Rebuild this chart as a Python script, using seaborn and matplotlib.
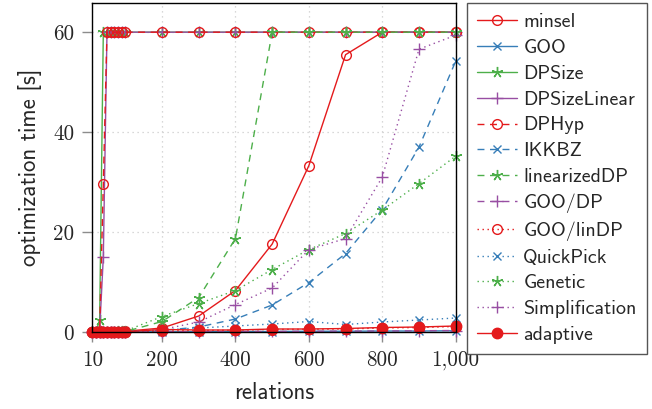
import matplotlib
matplotlib.use("Agg")
import matplotlib.pyplot as plt
import seaborn as sns
import numpy as np
import pandas as pd

# ---------------- data ----------------
relations = [10, 20, 30, 40, 50, 60, 70, 80, 90, 100,
             200, 300, 400, 500, 600, 700, 800, 900, 1000]

minsel = [0, 0, 0, 0.01, 0.02, 0.03, 0.05, 0.08, 0.1, 0.15,
          0.8, 3.2, 8.3, 17.6, 33.3, 55.5, 60, 60, 60]
goo = [0, 0, 0, 0, 0, 0, 0, 0, 0, 0.01,
       0.05, 0.05, 0.1, 0.1, 0.15, 0.15, 0.2, 0.2, 0.25]
dpsize = [0, 0.05, 2.4, 60, 60, 60, 60, 60, 60, 60,
          60, 60, 60, 60, 60, 60, 60, 60, 60]
dpsizelinear = [0, 0.02, 0.3, 15, 60, 60, 60, 60, 60, 60,
                60, 60, 60, 60, 60, 60, 60, 60, 60]
dphyp = [0, 0.01, 0.2, 29.6, 60, 60, 60, 60, 60, 60,
         60, 60, 60, 60, 60, 60, 60, 60, 60]
ikkbz = [0, 0, 0, 0, 0, 0.01, 0.01, 0.02, 0.02, 0.03,
         0.3, 1.0, 2.6, 5.4, 9.9, 15.7, 24.5, 37.0, 54.2]
linearizeddp = [0, 0, 0, 0, 0.01, 0.02, 0.03, 0.05, 0.07, 0.1,
                2.1, 6.9, 18.7, 60, 60, 60, 60, 60, 60]
goo_dp = [0, 0, 0, 0, 0, 0, 0, 0.01, 0.01, 0.01,
          0.05, 0.08, 0.1, 0.12, 0.15, 0.18, 0.2, 0.25, 0.3]
goo_lindp = [0, 0, 0, 0, 0.01, 0.01, 0.02, 0.02, 0.03, 0.03,
             0.2, 0.3, 0.35, 0.5, 0.55, 0.6, 0.8, 0.9, 1.1]
quickpick = [0, 0, 0.01, 0.01, 0.02, 0.03, 0.04, 0.05, 0.07, 0.1,
             0.4, 0.8, 1.2, 1.6, 2.1, 1.5, 2.0, 2.4, 2.8]
genetic = [0, 0.01, 0.02, 0.03, 0.05, 0.07, 0.1, 0.13, 0.17, 0.2,
           3.1, 5.7, 8.3, 12.5, 16.5, 19.7, 24.4, 29.7, 35.2]
simplification = [0, 0, 0, 0, 0.01, 0.01, 0.02, 0.03, 0.04, 0.05,
                  0.5, 2.0, 5.5, 8.8, 16.5, 18.7, 31.0, 56.6, 59.4]
adaptive = [0.02, 0.02, 0.02, 0.02, 0.03, 0.03, 0.03, 0.04, 0.04, 0.05,
            0.5, 0.4, 0.4, 0.6, 0.6, 0.7, 0.9, 1.0, 1.2]

series_names = ["minsel", "GOO", "DPSize", "DPSizeLinear", "DPHyp", "IKKBZ",
                "linearizedDP", "GOO/DP", "GOO/linDP", "QuickPick", "Genetic",
                "Simplification", "adaptive"]
series_values = [minsel, goo, dpsize, dpsizelinear, dphyp, ikkbz,
                 linearizeddp, goo_dp, goo_lindp, quickpick, genetic,
                 simplification, adaptive]

xtick_values = [10, 200, 400, 600, 800, 1000]
xtick_labels = ["10", "200", "400", "600", "800", "1,000"]
ytick_values = [0, 20, 40, 60]
ytick_labels = ["0", "20", "40", "60"]

# ---------------- styles ----------------
RED, BLUE, GREEN, PURPLE = "#e41a1c", "#377eb8", "#4daf4a", "#984ea3"
DASH = (0, (5, 4))
DOT = (0, (1, 2.6))
star = (5, 2, 0)
styles = [
    dict(color=RED, linestyle="-", marker="o", mfc="none", ms=7),
    dict(color=BLUE, linestyle="-", marker="x", ms=6),
    dict(color=GREEN, linestyle="-", marker=star, ms=8),
    dict(color=PURPLE, linestyle="-", marker="+", ms=9),
    dict(color=RED, linestyle=DASH, marker="o", mfc="none", ms=7),
    dict(color=BLUE, linestyle=DASH, marker="x", ms=6),
    dict(color=GREEN, linestyle=DASH, marker=star, ms=8),
    dict(color=PURPLE, linestyle=DASH, marker="+", ms=9),
    dict(color=RED, linestyle=DOT, marker="o", mfc="none", ms=7),
    dict(color=BLUE, linestyle=DOT, marker="x", ms=6),
    dict(color=GREEN, linestyle=DOT, marker=star, ms=8),
    dict(color=PURPLE, linestyle=DOT, marker="+", ms=9),
    dict(color=RED, linestyle="-", marker="o", mfc=RED, ms=7.5),
]

sns.set_theme(style="white")
plt.rcParams["font.family"] = ["DejaVu Sans"]

fig = plt.figure(figsize=(6.52, 4.09), dpi=100)
ax = fig.add_axes([92.3 / 652, 1 - 332 / 409, (455.7 - 92.3) / 652, (332 - 2.7) / 409])

for name, vals, st in zip(series_names, series_values, styles):
    df = pd.DataFrame({"relations": relations, "time": vals})
    st = dict(st)
    sns.lineplot(data=df, x="relations", y="time", ax=ax, label=name,
                 color=st.pop("color"), linestyle=st.pop("linestyle"),
                 marker=st.pop("marker"), markersize=st.pop("ms"),
                 markerfacecolor=st.pop("mfc", None) or "none",
                 markeredgewidth=1.0, linewidth=1.0, clip_on=False,
                 sort=False, errorbar=None)

# fix marker face for filled circle / crosses
for line, st in zip(ax.get_lines(), styles):
    if st.get("mfc") == RED:
        line.set_markerfacecolor(RED)
    line.set_markeredgecolor(st["color"])

ax.set_xlim(10, 1000)
ax.set_ylim(0, 65.9)
ax.set_xticks(xtick_values)
ax.set_xticklabels(xtick_labels, fontfamily="cmr10", fontsize=15.2)
ax.set_yticks(ytick_values)
ax.set_yticklabels(ytick_labels, fontfamily="cmr10", fontsize=15.2)
ax.tick_params(axis="both", direction="out", length=7, width=1.0,
               color="#8c8c8c", pad=6, bottom=True, left=True)
ax.grid(True, which="major", color="#cccccc", linestyle=(0, (1, 3)), linewidth=0.9)
for sp in ax.spines.values():
    sp.set_color("black")
    sp.set_linewidth(1.0)
    sp.set_visible(True)

ax.set_xlabel("relations", fontfamily="cmss10", fontsize=16.5, labelpad=9)
ax.set_ylabel("optimization time [s]", fontfamily="cmss10", fontsize=16.5, labelpad=8)

handles, labels = ax.get_legend_handles_labels()
leg = ax.legend(handles, labels, loc="upper left",
                bbox_to_anchor=(467.3 / 652, 1 - 3.3 / 409),
                bbox_transform=fig.transFigure,
                prop={"family": "cmss10", "size": 14.4},
                frameon=True, fancybox=False, framealpha=1,
                edgecolor="#555555", borderaxespad=0, borderpad=0.5,
                handlelength=2.0, handletextpad=0.3, labelspacing=0.39)
leg.get_frame().set_linewidth(1.0)

fig.savefig("out.png", dpi=100)
